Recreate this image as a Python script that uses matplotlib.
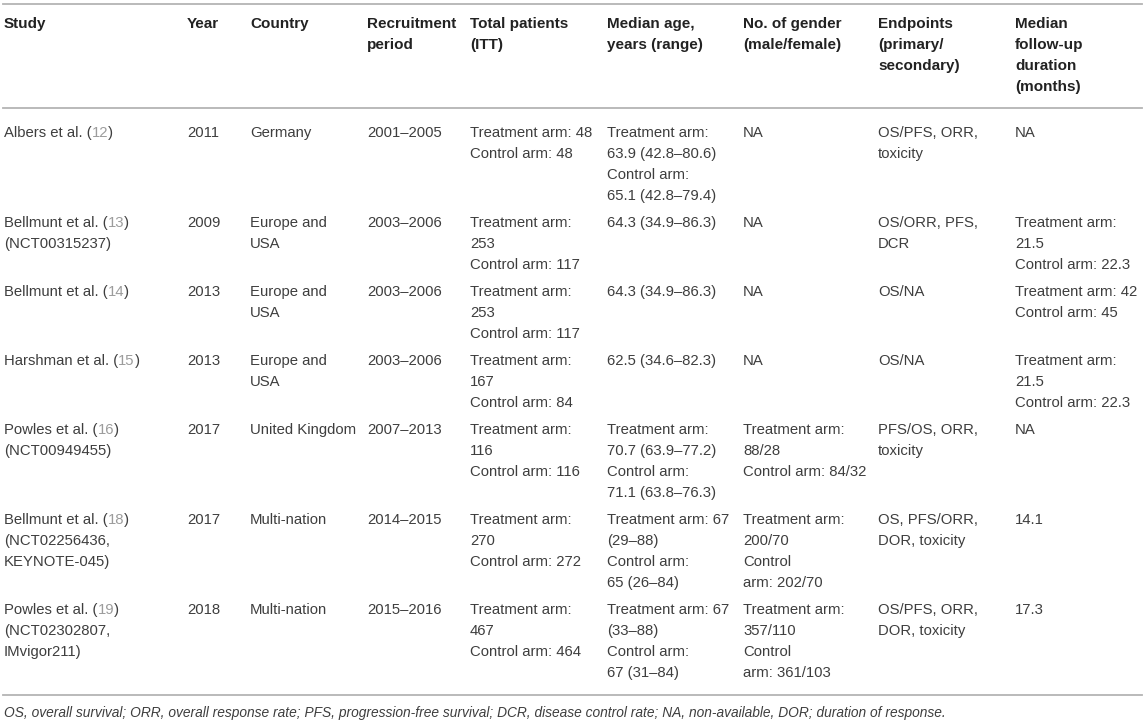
import matplotlib.pyplot as plt
from matplotlib.lines import Line2D

plt.rcParams['font.family'] = ['Liberation Sans', 'DejaVu Sans']

# table content
headers = ["Study", "Year", "Country", "Recruitment\nperiod", "Total patients\n(ITT)",
           "Median age,\nyears (range)", "No. of gender\n(male/female)",
           "Endpoints\n(primary/\nsecondary)", "Median\nfollow-up\nduration\n(months)"]

studies = ["Albers et al.", "Bellmunt et al.", "Bellmunt et al.", "Harshman et al.",
           "Powles et al.", "Bellmunt et al.", "Powles et al."]
refs = ["12", "13", "14", "15", "16", "18", "19"]
trial_ids = ["", "(NCT00315237)", "", "", "(NCT00949455)",
             "(NCT02256436,\nKEYNOTE-045)", "(NCT02302807,\nIMvigor211)"]
years = ["2011", "2009", "2013", "2013", "2017", "2017", "2018"]
countries = ["Germany", "Europe and\nUSA", "Europe and\nUSA", "Europe and\nUSA",
             "United Kingdom", "Multi-nation", "Multi-nation"]
periods = ["2001–2005", "2003–2006", "2003–2006", "2003–2006",
           "2007–2013", "2014–2015", "2015–2016"]
total_patients = ["Treatment arm: 48\nControl arm: 48",
                  "Treatment arm:\n253\nControl arm: 117",
                  "Treatment arm:\n253\nControl arm: 117",
                  "Treatment arm:\n167\nControl arm: 84",
                  "Treatment arm:\n116\nControl arm: 116",
                  "Treatment arm:\n270\nControl arm: 272",
                  "Treatment arm:\n467\nControl arm: 464"]
median_age = ["Treatment arm:\n63.9 (42.8–80.6)\nControl arm:\n65.1 (42.8–79.4)",
              "64.3 (34.9–86.3)",
              "64.3 (34.9–86.3)",
              "62.5 (34.6–82.3)",
              "Treatment arm:\n70.7 (63.9–77.2)\nControl arm:\n71.1 (63.8–76.3)",
              "Treatment arm: 67\n(29–88)\nControl arm:\n65 (26–84)",
              "Treatment arm: 67\n(33–88)\nControl arm:\n67 (31–84)"]
gender = ["NA", "NA", "NA", "NA",
          "Treatment arm:\n88/28\nControl arm: 84/32",
          "Treatment arm:\n200/70\nControl\narm: 202/70",
          "Treatment arm:\n357/110\nControl\narm: 361/103"]
endpoints = ["OS/PFS, ORR,\ntoxicity", "OS/ORR, PFS,\nDCR", "OS/NA", "OS/NA",
             "PFS/OS, ORR,\ntoxicity", "OS, PFS/ORR,\nDOR, toxicity",
             "OS/PFS, ORR,\nDOR, toxicity"]
followup = ["NA", "Treatment arm:\n21.5\nControl arm: 22.3",
            "Treatment arm: 42\nControl arm: 45",
            "Treatment arm:\n21.5\nControl arm: 22.3", "NA", "14.1", "17.3"]

footnote = ("OS, overall survival; ORR, overall response rate; PFS, progression-free survival; "
            "DCR, disease control rate; NA, non-available, DOR; duration of response.")

W, H = 1145, 723
col_x = [4, 187, 250, 367, 470, 607, 743, 878, 1015]
line_h = 21
row_pad = 6
text_col = '#3e3e3e'
ref_col = '#9c9c9c'
rule_col = '#b4b4b4'
fs = 10.7

fig = plt.figure(figsize=(W / 100, H / 100), dpi=100)
renderer = fig.canvas.get_renderer()


def put(x, y, s, **kw):
    # x, y in pixels from top-left, y is the visual middle of the line
    return fig.text(x / W, 1 - (y + 5) / H, s, va='baseline', ha='left', **kw)


def rule(y):
    fig.add_artist(Line2D([3 / W, 1142 / W], [1 - y / H, 1 - y / H],
                          color=rule_col, lw=1.3))


rule(4)
rule(108)

# header
for x, h in zip(col_x, headers):
    for i, ln in enumerate(h.split('\n')):
        put(x, 23 + i * line_h, ln, fontsize=11.0, fontweight='bold', color='#222222')

# body
y0 = 132
for r in range(len(studies)):
    cells = [None, years[r], countries[r], periods[r], total_patients[r],
             median_age[r], gender[r], endpoints[r], followup[r]]
    study_lines = 1 + (len(trial_ids[r].split('\n')) if trial_ids[r] else 0)
    n = max([study_lines] + [len(c.split('\n')) for c in cells[1:]])

    # study name with grey reference number
    t = put(col_x[0], y0, studies[r] + " (", fontsize=fs, color=text_col)
    bb = t.get_window_extent(renderer=renderer)
    t2 = put(bb.x1, y0, refs[r], fontsize=fs, color=ref_col)
    bb2 = t2.get_window_extent(renderer=renderer)
    put(bb2.x1, y0, ")", fontsize=fs, color=text_col)
    if trial_ids[r]:
        for i, ln in enumerate(trial_ids[r].split('\n')):
            put(col_x[0], y0 + (i + 1) * line_h, ln, fontsize=fs, color=text_col)

    for x, c in zip(col_x[1:], cells[1:]):
        for i, ln in enumerate(c.split('\n')):
            put(x, y0 + i * line_h, ln, fontsize=fs, color=text_col)
    y0 += n * line_h + row_pad

rule(695)
put(4, 712, footnote, fontsize=9.95, style='italic', color=text_col)

fig.savefig('out.png', dpi=100)
